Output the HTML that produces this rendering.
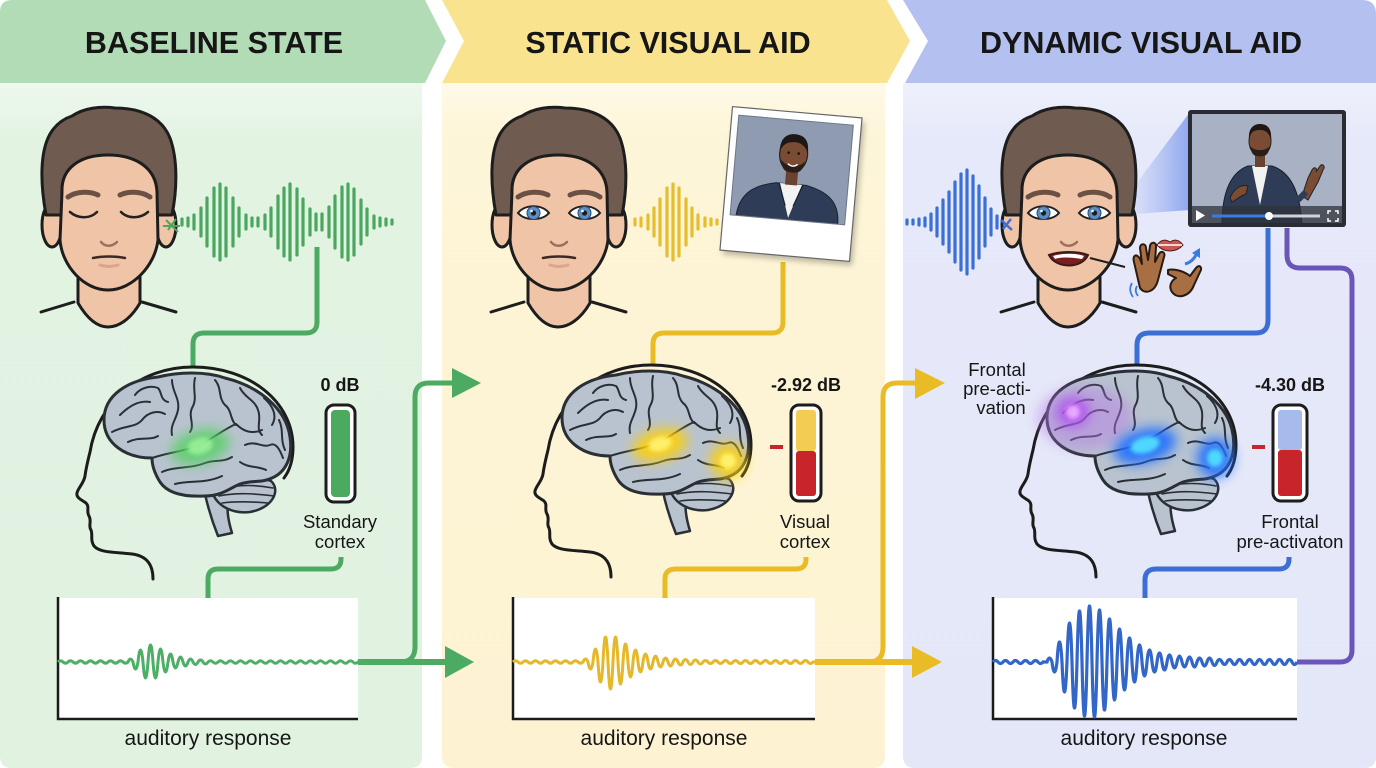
<!DOCTYPE html>
<html><head><meta charset="utf-8"><style>
html,body{margin:0;padding:0;background:#fff;}
svg{display:block;}
text{font-family:"Liberation Sans",Arial,sans-serif;fill:#161616;}
</style></head><body>
<svg width="1376" height="768" viewBox="0 0 1376 768" xmlns="http://www.w3.org/2000/svg">
<defs>
<linearGradient id="gG" x1="0" y1="0" x2="0" y2="1"><stop offset="0" stop-color="#eef8ee"/><stop offset="0.08" stop-color="#e3f3e2"/><stop offset="1" stop-color="#e2f2e1"/></linearGradient>
<linearGradient id="gY" x1="0" y1="0" x2="0" y2="1"><stop offset="0" stop-color="#fffae8"/><stop offset="0.08" stop-color="#fdf5d7"/><stop offset="1" stop-color="#fdf3d3"/></linearGradient>
<linearGradient id="gB" x1="0" y1="0" x2="0" y2="1"><stop offset="0" stop-color="#eef0fc"/><stop offset="0.08" stop-color="#e6e9f9"/><stop offset="1" stop-color="#e4e7f8"/></linearGradient>
<linearGradient id="cone" x1="0" y1="0" x2="1" y2="0"><stop offset="0" stop-color="#8fa6f0" stop-opacity="0.1"/><stop offset="1" stop-color="#6f8fea" stop-opacity="0.75"/></linearGradient>
<filter id="b6" x="-50%" y="-50%" width="200%" height="200%"><feGaussianBlur stdDeviation="6"/></filter>
<filter id="b3" x="-50%" y="-50%" width="200%" height="200%"><feGaussianBlur stdDeviation="3"/></filter>
<filter id="b2" x="-50%" y="-50%" width="200%" height="200%"><feGaussianBlur stdDeviation="2"/></filter>
<clipPath id="polClip"><rect x="-58" y="-64" width="115" height="100"/></clipPath>
<clipPath id="vidClip"><rect x="1192" y="114" width="150" height="109"/></clipPath>

<g id="faceBase" stroke="#1d1d1d" stroke-width="3" stroke-linejoin="round" stroke-linecap="round">
 <path d="M78,258 L78,303 C88,320 98,327 108,327 C118,327 130,320 140,303 L140,258 Z" fill="#f0c4a6"/>
 <path d="M41,312 L74,302 M142,302 L176,312" fill="none"/>
 <ellipse cx="52" cy="225" rx="10" ry="22" fill="#f0c4a6"/>
 <ellipse cx="166" cy="225" rx="10" ry="22" fill="#f0c4a6"/>
 <path d="M46,215 C40,182 40,152 50,134 C57,122 66,118 72,116 C84,108 100,106 115,108 C142,108 162,118 170,138 C178,160 177,190 172,215 Z" fill="#6f5b4f"/>
 <path d="M62,192 C61,168 80,155 108,155 C136,155 156,168 157,192 L158,240 C155,266 132,290 108,290 C84,290 62,266 60,240 Z" fill="#f0c4a6"/>
 <path d="M68,197 C77,191 90,191 98,195 M120,195 C128,191 141,191 150,197" stroke="#6b5045" stroke-width="5" fill="none"/>
 <path d="M101,242 C105,247 112,247 117,242" stroke="#9c6e5e" stroke-width="2.5" fill="none"/>
</g>

<g id="openEyes">
 <path d="M68,213 C75,204 92,204 99,213 C92,221 75,221 68,213 Z" fill="#fff" stroke="#222" stroke-width="2"/>
 <circle cx="83.5" cy="213" r="6.5" fill="#5b8ec4" stroke="#2c4a6a" stroke-width="1"/>
 <circle cx="83.5" cy="213" r="2.6" fill="#1c1c1c"/>
 <path d="M119,213 C126,204 143,204 150,213 C143,221 126,221 119,213 Z" fill="#fff" stroke="#222" stroke-width="2"/>
 <circle cx="134.5" cy="213" r="6.5" fill="#5b8ec4" stroke="#2c4a6a" stroke-width="1"/>
 <circle cx="134.5" cy="213" r="2.6" fill="#1c1c1c"/>
 <circle cx="81.5" cy="211" r="1.3" fill="#fff"/><circle cx="132.5" cy="211" r="1.3" fill="#fff"/>
</g>

<g id="brain" stroke-linejoin="round" stroke-linecap="round">
 <path d="M153,579 C153,566 148,556 132,554 C115,552 100,553 94,546 C90,540 93,535 91,530 C88,526 92,521 89,516 C86,511 90,507 86,503 C82,500 76,498 77,493 C78,488 84,483 85,476 C86,468 88,460 90,452 C98,402 140,367 193,367 C250,367 293,402 293,447 C293,460 290,470 284,478" fill="none" stroke="#1c1c1c" stroke-width="3"/>
 <path d="M205,494 C209,512 214,526 218,536 L232,533 C228,520 226,508 229,496 Z" fill="#b9c3cf" stroke="#2a2f36" stroke-width="2.5"/>
 <path d="M212,492 C220,477 250,473 271,481 C281,490 273,508 250,512 C232,514 217,506 212,492 Z" fill="#b9c3cf" stroke="#2a2f36" stroke-width="2.5"/>
 <path d="M222,489 C238,484 258,485 273,488 M219,496 C238,492 258,494 274,496 M222,503 C238,501 256,502 268,503" fill="none" stroke="#2a2f36" stroke-width="1.6"/>
 <path d="M152,458 C126,458 104,444 104,420 C104,395 128,380 158,377 C178,372 205,371 225,378 C258,386 286,408 290,437 C293,457 286,472 272,478 C262,483 252,480 240,484 C230,488 222,496 205,496 C186,497 168,494 160,482 C155,474 152,466 152,458 Z" fill="#b9c3cf" stroke="#2a2f36" stroke-width="3"/>
 <path d="M152,458 C170,452 182,452 196,446 C212,440 222,430 236,424 M120,415 C130,405 140,400 150,402 M112,432 C125,425 135,428 142,420 C148,412 158,410 165,414 M135,395 C140,388 150,385 158,388 C162,392 160,400 168,402 M172,380 C172,392 180,398 178,410 C176,420 170,425 172,435 M195,378 C192,390 198,398 192,408 C188,416 195,425 190,432 M215,380 C222,388 218,398 225,405 C232,410 230,420 236,425 M240,388 C245,398 255,400 258,410 C262,420 255,428 262,435 M264,398 C272,405 278,415 272,425 M279,420 C284,430 280,440 285,450 M162,472 C175,466 190,469 205,463 C215,459 222,463 232,457 M175,484 C190,480 205,484 222,476 M245,445 C255,440 262,448 270,445 C276,442 280,450 283,458 M236,424 C244,432 252,434 262,430 M128,442 C140,436 150,441 158,436 M240,462 C248,468 258,466 266,470" fill="none" stroke="#2a2f36" stroke-width="2"/>
</g>
</defs>

<!-- panel bodies -->
<path d="M0,83 H422 V756 Q422,768 410,768 H12 Q0,768 0,756 Z" fill="url(#gG)"/>
<path d="M442,83 H885 V756 Q885,768 873,768 H454 Q442,768 442,756 Z" fill="url(#gY)"/>
<path d="M903,83 H1376 V756 Q1376,768 1364,768 H915 Q903,768 903,756 Z" fill="url(#gB)"/>

<!-- headers -->
<path d="M0,12 Q0,0 12,0 L425,0 L446,41 L425,83 L0,83 Z" fill="#b2dcb6"/>
<path d="M442,0 L887,0 L910,41 L887,83 L442,83 L464,41 Z" fill="#fae38f"/>
<path d="M903,0 L1362,0 Q1376,0 1376,14 L1376,83 L905,83 L928,41 Z" fill="#b4c0f0"/>
<text x="214" y="53" font-size="30.5" font-weight="bold" text-anchor="middle">BASELINE STATE</text>
<text x="668" y="53" font-size="30.5" font-weight="bold" text-anchor="middle">STATIC VISUAL AID</text>
<text x="1141" y="53" font-size="30.5" font-weight="bold" text-anchor="middle">DYNAMIC VISUAL AID</text>

<!-- connectors -->
<g fill="none" stroke-width="5">
 <path d="M317,247 V322 Q317,333 306,333 H204 Q193,333 193,344 V368" stroke="#4caa62"/>
 <path d="M341,557 V559 Q341,569 331,569 H218 Q208,569 208,579 V598" stroke="#4caa62"/>
 <path d="M358,662 H450" stroke="#4caa62" stroke-width="6"/>
 <path d="M400,662 Q415,662 415,647 V397 Q415,383 429,383 H456" stroke="#4caa62"/>
 <path d="M783,262 V322 Q783,333 772,333 H664 Q653,333 653,344 V366" stroke="#e9bb25"/>
 <path d="M806,557 V559 Q806,569 796,569 H676 Q665,569 665,579 V598" stroke="#e9bb25"/>
 <path d="M815,662 H916" stroke="#e9bb25" stroke-width="6"/>
 <path d="M868,662 Q883,662 883,647 V397 Q883,383 897,383 H918" stroke="#e9bb25"/>
 <path d="M1268,228 V320 Q1268,333 1256,333 H1149 Q1137,333 1137,345 V366" stroke="#3b6fd4"/>
 <path d="M1289,557 V559 Q1289,569 1279,569 H1156 Q1145,569 1145,580 V598" stroke="#3b6fd4"/>
 <path d="M1287,228 V255 Q1287,268 1300,268 H1340 Q1352,268 1352,280 V650 Q1352,662 1340,662 H1297" stroke="#6a55b8"/>
</g>
<polygon points="445,646 474,662 445,678" fill="#4caa62"/>
<polygon points="452,368 481,383 452,398" fill="#4caa62"/>
<polygon points="912,646 942,662 912,678" fill="#e9bb25"/>
<polygon points="915,368 945,383 915,399" fill="#e9bb25"/>

<!-- faces -->
<use href="#faceBase"/>
<path d="M70,212 C78,219 90,219 97,212 M121,212 C128,219 140,219 148,212" fill="none" stroke="#222" stroke-width="2.5" stroke-linecap="round"/>
<path d="M93,258 C102,256 116,256 125,258" fill="none" stroke="#3a2a25" stroke-width="2.5" stroke-linecap="round"/>
<path d="M100,265 C106,267 112,267 118,265" fill="none" stroke="#d9a58c" stroke-width="3" stroke-linecap="round"/>
<path d="M166,220 L178,232 M168,230 L176,219 M163,226 L180,226" stroke="#4aa760" stroke-width="2"/>

<g transform="translate(450,0)">
 <use href="#faceBase"/><use href="#openEyes"/>
 <path d="M93,258 C102,256 116,256 125,258" fill="none" stroke="#3a2a25" stroke-width="2.5" stroke-linecap="round"/>
 <path d="M100,265 C106,267 112,267 118,265" fill="none" stroke="#d9a58c" stroke-width="3" stroke-linecap="round"/>
</g>

<!-- panel3 cone -->
<polygon points="1130,192 1190,112 1190,210 1134,214" fill="url(#cone)"/>
<g transform="translate(960,0)">
 <use href="#faceBase"/><use href="#openEyes"/>
 <path d="M89,255 C100,251 118,251 128,255 C122,269 96,269 89,255 Z" fill="#7b1e1e" stroke="#3a1a1a" stroke-width="2"/>
 <path d="M93,256 C103,253 116,253 124,256 L122,259 C110,257 100,257 95,259 Z" fill="#fff"/>
</g>
<path d="M1001,220 L1012,230 M1003,229 L1011,219" stroke="#3a6fd6" stroke-width="2.5"/>
<path d="M1090,258 L1125,267" stroke="#1d1d1d" stroke-width="2"/>
<!-- lips icon -->
<path d="M1157,245 C1162,238 1167,240 1170,242 C1173,240 1178,238 1183,245 C1176,253 1164,253 1157,245 Z" fill="#c8584f" stroke="#5a1a1a" stroke-width="1"/>
<path d="M1158,245 L1182,245" stroke="#fff" stroke-width="1.5"/>
<!-- arrow -->
<path d="M1185,264 Q1193,262 1197,253" fill="none" stroke="#3a7be0" stroke-width="3"/>
<polygon points="1192,253 1200,248 1200,258" fill="#3a7be0"/>
<!-- hands -->
<path d="M1134,262 C1132,255 1137,253 1140,259 L1142,264 L1140,248 C1140,243 1146,243 1146,248 L1148,260 L1150,246 C1151,241 1157,242 1156,247 L1155,262 L1159,254 C1161,250 1166,252 1164,257 L1158,280 C1155,292 1145,295 1140,288 Z" fill="#a86f45" stroke="#2a1a10" stroke-width="2" stroke-linejoin="round"/>
<path d="M1168,270 C1175,268 1185,272 1190,276 L1196,268 C1199,264 1203,267 1200,272 L1194,285 C1190,296 1178,300 1172,292 C1168,286 1172,280 1176,278 L1168,274 Z" fill="#a86f45" stroke="#2a1a10" stroke-width="2" stroke-linejoin="round"/>
<path d="M1132,283 Q1128,290 1133,297 M1137,286 Q1134,291 1138,296" fill="none" stroke="#3a7be0" stroke-width="1.8"/>

<!-- top waves -->
<path d="M182,219V225M188,218V226M194,215V229M201,208V236M207,198V246M214,188V256M220,184V260M226,188V256M233,198V246M239,208V236M246,215V229M252,218V226M258,218V226M265,215V229M271,208V236M278,196V248M284,188V256M290,184V260M297,189V255M303,199V245M310,209V235M316,214V230M322,214V230M329,207V237M335,196V248M342,187V257M348,184V260M354,189V255M361,200V244M367,209V235M374,216V228M380,218V226M386,219V225M392,220V224" stroke="#4aa760" stroke-width="3.2" stroke-linecap="round"/>
<path d="M635,219V225M641,218V226M648,215V229M654,208V236M660,199V245M667,188V256M673,184V260M679,188V256M686,199V245M692,208V236M698,215V229M705,218V226M711,219V225M717,220V224" stroke="#e6bd2c" stroke-width="3.2" stroke-linecap="round"/>
<path d="M907,220V224M913,220V224M919,219V225M925,218V226M931,214V230M937,208V236M943,200V244M949,192V252M955,182V262M961,174V270M967,170V274M973,176V268M979,186V258M985,198V246M991,209V235M997,216V228" stroke="#3a6fd6" stroke-width="3.2" stroke-linecap="round"/>

<!-- polaroid -->
<g transform="translate(791,184) rotate(5)">
 <rect x="-62" y="-68" width="130" height="144" fill="#000" opacity="0.25" filter="url(#b3)"/>
 <rect x="-65" y="-72" width="130" height="144" fill="#fff" stroke="#666" stroke-width="1.2"/>
 <rect x="-58" y="-64" width="115" height="100" fill="#8e9bb0"/>
 <g clip-path="url(#polClip)">
  <path d="M-52,36 C-50,12 -35,4 -15,0 L15,0 C35,4 50,12 50,36 Z" fill="#2f3c58" stroke="#1a1f2c" stroke-width="1"/>
  <path d="M-11,0 L0,34 L11,0 Z" fill="#f2f2f2"/>
  <path d="M-12,0 L-4,22 M12,0 L4,22" stroke="#1a1f2c" stroke-width="1.2"/>
  <rect x="-6" y="-16" width="12" height="17" fill="#6a4230"/>
  <ellipse cx="0" cy="-30" rx="14" ry="18" fill="#7a4c34" stroke="#222" stroke-width="1.2"/>
  <path d="M-14,-32 C-15,-48 -5,-50 0,-50 C8,-50 15,-46 14,-32 C11,-40 5,-42 0,-42 C-6,-42 -11,-40 -14,-32 Z" fill="#1e1714"/>
  <path d="M-12,-24 C-10,-10 -4,-12 0,-12 C4,-12 10,-10 12,-24 C8,-18 4,-19 0,-19 C-4,-19 -8,-18 -12,-24 Z" fill="#2b1d17"/>
  <path d="M-5,-20 Q0,-16 5,-20" stroke="#fff" stroke-width="1.5" fill="none"/>
  <circle cx="-5" cy="-31" r="1.3" fill="#111"/><circle cx="5" cy="-31" r="1.3" fill="#111"/>
 </g>
 <rect x="-58" y="-64" width="115" height="100" fill="none" stroke="#6d778a" stroke-width="1"/>
</g>

<!-- video screen -->
<rect x="1188" y="110" width="158" height="117" rx="3" fill="#2a2c31"/>
<rect x="1192" y="114" width="150" height="109" fill="#a8b2c4"/>
<g clip-path="url(#vidClip)">
 <path d="M1222,225 C1222,190 1232,172 1248,166 L1272,166 C1290,172 1300,190 1302,225 Z" fill="#2f3c58" stroke="#1a1f2c" stroke-width="1"/>
 <path d="M1252,166 L1260,205 L1268,166 Z" fill="#f2f2f2"/>
 <rect x="1255" y="152" width="10" height="15" fill="#6a4230"/>
 <ellipse cx="1260" cy="141" rx="11" ry="15" fill="#7a4c34" stroke="#222" stroke-width="1"/>
 <path d="M1249,139 C1248,126 1256,124 1260,124 C1266,124 1272,127 1271,139 C1268,131 1264,130 1260,130 C1255,130 1251,131 1249,139 Z" fill="#1e1714"/>
 <path d="M1250,146 C1252,157 1256,156 1260,156 C1264,156 1268,157 1270,146 C1266,150 1263,150 1260,150 C1257,150 1254,150 1250,146 Z" fill="#2b1d17"/>
 <path d="M1230,198 C1234,188 1242,184 1248,186 L1246,194 C1240,196 1236,200 1232,202 Z" fill="#7a4c34" stroke="#222" stroke-width="1"/>
 <path d="M1302,196 L1308,178 L1312,170 C1314,166 1318,168 1316,172 L1320,166 C1322,163 1326,166 1323,170 L1318,182 L1308,200 Z" fill="#7a4c34" stroke="#222" stroke-width="1"/>
 <path d="M1298,200 L1306,192" stroke="#2f3c58" stroke-width="6"/>
 <rect x="1192" y="206" width="150" height="17" fill="#30323a" opacity="0.75"/>
 <polygon points="1196,210 1196,221 1205,215.5" fill="#fff"/>
 <line x1="1212" y1="216" x2="1320" y2="216" stroke="#cfd3da" stroke-width="3"/>
 <line x1="1212" y1="216" x2="1268" y2="216" stroke="#3a7be0" stroke-width="3"/>
 <circle cx="1269" cy="216" r="4" fill="#fff"/>
 <path d="M1328,214 V211 H1331 M1335,211 H1338 V214 M1338,218 V221 H1335 M1331,221 H1328 V218" fill="none" stroke="#fff" stroke-width="1.5"/>
</g>

<!-- brains -->
<use href="#brain"/>
<g transform="translate(458,-2)"><use href="#brain"/></g>
<g transform="translate(943,-2)"><use href="#brain"/></g>

<!-- glows -->
<ellipse cx="200" cy="447" rx="30" ry="17" transform="rotate(-15 200 447)" fill="#52d060" opacity="0.8" filter="url(#b6)"/>
<ellipse cx="200" cy="446" rx="13" ry="8" transform="rotate(-15 200 446)" fill="#9af29a" opacity="0.9" filter="url(#b2)"/>

<ellipse cx="660" cy="445" rx="28" ry="16" transform="rotate(-15 660 445)" fill="#ffd000" opacity="0.85" filter="url(#b6)"/>
<ellipse cx="660" cy="444" rx="12" ry="7" transform="rotate(-15 660 444)" fill="#fff06a" filter="url(#b2)"/>
<ellipse cx="728" cy="461" rx="18" ry="18" fill="#ffd000" opacity="0.85" filter="url(#b6)"/>
<ellipse cx="728" cy="461" rx="8" ry="8" fill="#fff06a" filter="url(#b2)"/>

<ellipse cx="1085" cy="418" rx="48" ry="32" fill="#b77ae8" opacity="0.45" filter="url(#b6)"/>
<ellipse cx="1073" cy="412" rx="16" ry="14" fill="#b04cf2" opacity="0.9" filter="url(#b6)"/>
<ellipse cx="1073" cy="412" rx="7" ry="7" fill="#e7a8ff" filter="url(#b2)"/>
<ellipse cx="1145" cy="446" rx="32" ry="17" transform="rotate(-15 1145 446)" fill="#1f6dff" opacity="0.9" filter="url(#b6)"/>
<ellipse cx="1145" cy="445" rx="15" ry="8" transform="rotate(-15 1145 445)" fill="#4fd8ff" filter="url(#b2)"/>
<ellipse cx="1215" cy="458" rx="18" ry="20" fill="#1f6dff" opacity="0.9" filter="url(#b6)"/>
<ellipse cx="1215" cy="458" rx="8" ry="9" fill="#4fd8ff" filter="url(#b2)"/>

<!-- meters -->
<rect x="326" y="405" width="29" height="97" rx="8" fill="#fff" stroke="#1c1c1c" stroke-width="3"/>
<rect x="331" y="410" width="19" height="87" rx="4" fill="#4caa5f"/>
<rect x="791" y="405" width="30" height="96" rx="8" fill="#fff" stroke="#1c1c1c" stroke-width="3"/>
<rect x="796" y="410" width="20" height="41" rx="3" fill="#f3cd52"/>
<rect x="796" y="451" width="20" height="45" rx="3" fill="#c7252b"/>
<rect x="770" y="445" width="13" height="4" fill="#c7252b"/>
<rect x="1273" y="405" width="34" height="96" rx="8" fill="#fff" stroke="#1c1c1c" stroke-width="3"/>
<rect x="1278" y="410" width="24" height="40" rx="3" fill="#a6bbec"/>
<rect x="1278" y="450" width="24" height="46" rx="3" fill="#c7252b"/>
<rect x="1252" y="445" width="13" height="4" fill="#c7252b"/>

<text x="340" y="391" font-size="18" font-weight="bold" text-anchor="middle">0 dB</text>
<text x="806" y="391" font-size="18" font-weight="bold" text-anchor="middle">-2.92 dB</text>
<text x="1290" y="391" font-size="18" font-weight="bold" text-anchor="middle">-4.30 dB</text>
<g font-size="18.5" text-anchor="middle">
 <text x="340" y="528">Standary</text><text x="340" y="548">cortex</text>
 <text x="805" y="528">Visual</text><text x="805" y="548">cortex</text>
 <text x="1290" y="528">Frontal</text><text x="1290" y="548">pre-activaton</text>
 <text x="997" y="376">Frontal</text><text x="997" y="395">pre-acti-</text><text x="1001" y="414">vation</text>
</g>

<!-- graphs -->
<rect x="58" y="598" width="300" height="120" fill="#fff"/>
<rect x="513" y="598" width="302" height="120" fill="#fff"/>
<rect x="993" y="598" width="304" height="120" fill="#fff"/>
<path d="M58,597 V719 H358 M513,597 V719 H815 M993,597 V719 H1297" fill="none" stroke="#1a1a1a" stroke-width="2.5"/>

<path d="M58,662 q2.5,-2.4 5,0 q2.5,2.4 5,0 q2.5,-2.4 5,0 q2.5,2.4 5,0 q2.5,-2.4 5,0 q2.5,2.4 5,0 q2.5,-2.4 5,0 q2.5,2.4 5,0 q2.5,-2.4 5,0 q2.5,2.4 5,0 q2.5,-2.4 5,0 q2.5,2.4 5,0 q2.5,-2.4 5,0 q2.5,2.4 5,0 q2.5,-6 5,0 q2.5,14 5,0 q2.5,-24 5,0 q2.5,32 5,0 q2.5,-34 5,0 q2.5,32 5,0 q2.5,-26 5,0 q2.5,20 5,0 q2.5,-16 5,0 q2.5,12 5,0 q2.5,-10 5,0 q2.5,8 5,0 q2.5,-6 5,0 q2.5,5 5,0 q2.5,-4 5,0 q2.5,4 5,0 q2.5,-2.6 5,0 q2.5,2.6 5,0 q2.5,-2.6 5,0 q2.5,2.6 5,0 q2.5,-2.6 5,0 q2.5,2.6 5,0 q2.5,-2.6 5,0 q2.5,2.6 5,0 q2.5,-2.6 5,0 q2.5,2.6 5,0 q2.5,-2.6 5,0 q2.5,2.6 5,0 q2.5,-2.6 5,0 q2.5,2.6 5,0 q2.5,-2.6 5,0 q2.5,2.6 5,0 q2.5,-2.6 5,0 q2.5,2.6 5,0 q2.5,-2.6 5,0 q2.5,2.6 5,0 q2.5,-2.6 5,0 q2.5,2.6 5,0 q2.5,-2.6 5,0 q2.5,2.6 5,0 q2.5,-2.6 5,0 q2.5,2.6 5,0 q2.5,-2.6 5,0 q2.5,2.6 5,0 q2.5,-2.6 5,0 q2.5,2.6 5,0 q2.5,-2.6 5,0 q2.5,2.6 5,0" fill="none" stroke="#4caf65" stroke-width="3"/>

<path d="M513,662 q2.5,-2.4 5,0 q2.5,2.4 5,0 q2.5,-2.4 5,0 q2.5,2.4 5,0 q2.5,-2.4 5,0 q2.5,2.4 5,0 q2.5,-2.4 5,0 q2.5,2.4 5,0 q2.5,-2.4 5,0 q2.5,2.4 5,0 q2.5,-2.4 5,0 q2.5,2.4 5,0 q2.5,-2.4 5,0 q2.5,2.4 5,0 q2.5,-6 5,0 q2.5,14 5,0 q2.5,-26 5,0 q2.5,40 5,0 q2.5,-50 5,0 q2.5,54 5,0 q2.5,-50 5,0 q2.5,44 5,0 q2.5,-36 5,0 q2.5,30 5,0 q2.5,-24 5,0 q2.5,20 5,0 q2.5,-16 5,0 q2.5,14 5,0 q2.5,-12 5,0 q2.5,10 5,0 q2.5,-8 5,0 q2.5,8 5,0 q2.5,-6 5,0 q2.5,6 5,0 q2.5,-5 5,0 q2.5,5 5,0 q2.5,-4 5,0 q2.5,4 5,0 q2.5,-3 5,0 q2.5,3 5,0 q2.5,-3 5,0 q2.5,3 5,0 q2.5,-3 5,0 q2.5,3 5,0 q2.5,-3 5,0 q2.5,3 5,0 q2.5,-3 5,0 q2.5,3 5,0 q2.5,-3 5,0 q2.5,3 5,0 q2.5,-3 5,0 q2.5,3 5,0 q2.5,-3 5,0 q2.5,3 5,0 q2.5,-3 5,0 q2.5,3 5,0 q2.5,-3 5,0 q2.5,3 5,0 q2.5,-3 5,0 q2.5,3 5,0 L815,662" fill="none" stroke="#e5b82a" stroke-width="3"/>

<path d="M993,662 q2.5,-3 5,0 q2.5,3 5,0 q2.5,-3 5,0 q2.5,3 5,0 q2.5,-3 5,0 q2.5,3 5,0 q2.5,-3 5,0 q2.5,3 5,0 q2.5,-3 5,0 q2.5,3 5,0 L1047,662 q2.5,-8 5,0 q2.5,20 5,0 q2.5,-40 5,0 q2.5,60 5,0 q2.5,-78 5,0 q2.5,92 5,0 q2.5,-102 5,0 q2.5,108 5,0 q2.5,-112 5,0 q2.5,110 5,0 q2.5,-104 5,0 q2.5,96 5,0 q2.5,-86 5,0 q2.5,76 5,0 q2.5,-66 5,0 q2.5,56 5,0 q2.5,-48 5,0 q2.5,40 5,0 q2.5,-34 5,0 q2.5,28 5,0 q2.5,-24 5,0 q2.5,20 5,0 q2.5,-18 5,0 q2.5,16 5,0 q2.5,-14 5,0 q2.5,12 5,0 q2.5,-12 5,0 q2.5,10 5,0 q2.5,-10 5,0 q2.5,10 5,0 q2.5,-8 5,0 q2.5,8 5,0 q2.5,-8 5,0 q2.5,7 5,0 q2.5,-5 5,0 q2.5,5 5,0 q2.5,-5 5,0 q2.5,5 5,0 q2.5,-5 5,0 q2.5,5 5,0 q2.5,-5 5,0 q2.5,5 5,0 q2.5,-5 5,0 q2.5,5 5,0 q2.5,-5 5,0 q2.5,5 5,0 q2.5,-5 5,0 q2.5,5 5,0 q2.5,-5 5,0 q2.5,5 5,0 L1297,662" fill="none" stroke="#3266c8" stroke-width="3.2"/>

<g font-size="21" text-anchor="middle">
 <text x="208" y="745">auditory response</text>
 <text x="664" y="745">auditory response</text>
 <text x="1144" y="745">auditory response</text>
</g>
</svg>
</body></html>
